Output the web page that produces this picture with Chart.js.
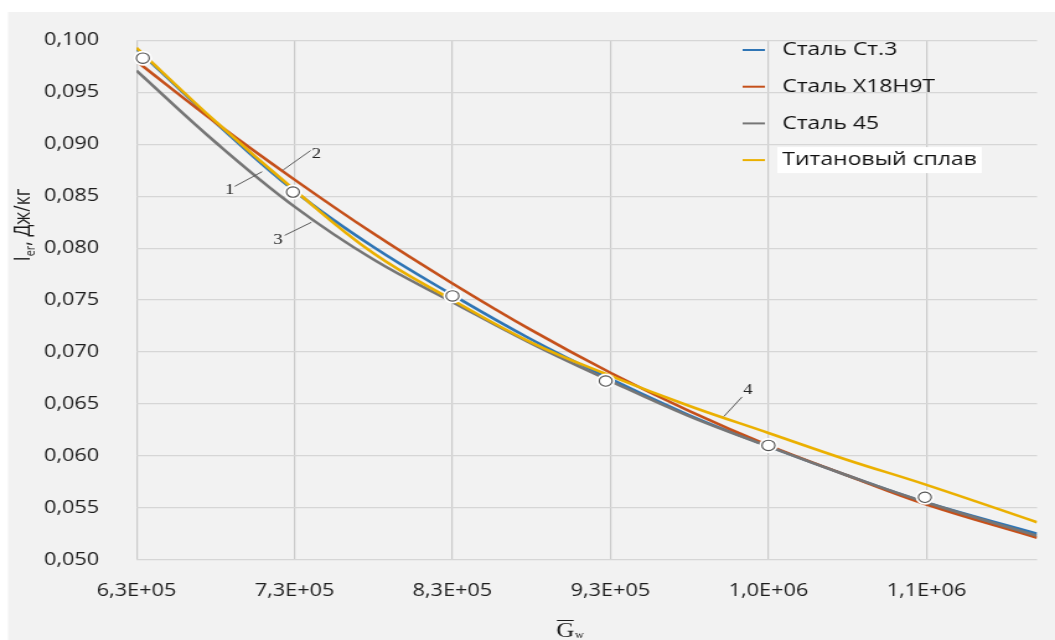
<!DOCTYPE html>
<html><head><meta charset="utf-8">
<script src="https://cdn.jsdelivr.net/npm/chart.js@4/dist/chart.umd.min.js"></script>
<style>html,body{margin:0;padding:0;background:#fff;overflow:hidden}</style>
</head><body>
<canvas id="c" width="851" height="640" style="width:1055px;height:640px;display:block"></canvas>
<script>
// ---- data ----
const xValues   = [630000, 680000, 730000, 780000, 830000, 880000, 930000, 980000, 1030000, 1080000, 1130000, 1200000];
const steelSt3  = [0.0992, 0.0921, 0.0855, 0.0801, 0.0755, 0.0712, 0.0674, 0.0639, 0.0609, 0.0581, 0.0555, 0.0525];
const steelX18  = [0.0980, 0.0921, 0.0866, 0.0814, 0.0766, 0.0721, 0.0680, 0.0643, 0.0610, 0.0581, 0.0553, 0.0521];
const steel45   = [0.0971, 0.0902, 0.0840, 0.0789, 0.0748, 0.0708, 0.0672, 0.0638, 0.0609, 0.0581, 0.0555, 0.0523];
const titanium  = [0.0993, 0.0922, 0.0856, 0.0795, 0.0750, 0.0709, 0.0677, 0.0648, 0.0622, 0.0596, 0.0572, 0.0536];
const seriesNames = ['Сталь Ст.3', 'Сталь Х18Н9Т', 'Сталь 45', 'Титановый сплав'];
const markerX = [634000, 729000, 830000, 927000, 1030000, 1129000, 1209000];
const markerY = [0.0983, 0.0854, 0.0754, 0.0672, 0.0610, 0.0560, 0.0522];
const xTickValues = [630000, 730000, 830000, 930000, 1030000, 1130000];
const xTickLabels = ['6,3E+05', '7,3E+05', '8,3E+05', '9,3E+05', '1,0E+06', '1,1E+06'];
const yTickValues = [0.050, 0.055, 0.060, 0.065, 0.070, 0.075, 0.080, 0.085, 0.090, 0.095, 0.100];
const yTickLabels = ['0,050', '0,055', '0,060', '0,065', '0,070', '0,075', '0,080', '0,085', '0,090', '0,095', '0,100'];
const annTexts = ['1', '2', '3', '4'];
const annTipX  = [709500, 722700, 740700, 1001800];
const annTipY  = [0.08736, 0.08752, 0.08249, 0.06379];
const annEndX  = [692200, 740200, 723800, 1013300];
const annEndY  = [0.08595, 0.08940, 0.08123, 0.06567];

// ---- styling ----
const S = 1055 / 851; // horizontal stretch of the reference
const colors = ['#2f75b5', '#c5501a', '#767676', '#ebb000'];
const seriesData = [steelSt3, steelX18, steel45, titanium];
const seriesOrder = [4, 3, 2, 1];
const annOffsets = [[-4, 3.5], [4.6, 3.3], [-5.4, 5], [4.6, -6.6]];

const toXY = (xs, ys) => xs.map((x, i) => ({x, y: ys[i]}));

const datasets = [
  { type: 'scatter', data: toXY(markerX, markerY), pointRadius: 5.2, pointBackgroundColor: '#fff',
    pointBorderColor: '#505050', pointBorderWidth: 1.1, order: -2, clip: false },
  { type: 'scatter', data: toXY(markerX, markerY), pointRadius: 7.5, pointBackgroundColor: '#fff',
    pointBorderWidth: 0, pointBorderColor: 'rgba(0,0,0,0)', order: -1, clip: false },
];
seriesData.forEach((arr, i) => datasets.push({
  type: 'line', label: seriesNames[i], data: toXY(xValues, arr), borderColor: colors[i],
  borderWidth: 2.6, pointRadius: 0, fill: false, tension: 0.4, order: seriesOrder[i]
}));

const bgPlugin = {
  id: 'bg',
  beforeDraw(chart) {
    const c = chart.ctx; c.save();
    c.fillStyle = '#fff'; c.fillRect(0, 0, chart.width, chart.height);
    c.fillStyle = '#f2f2f2'; c.fillRect(8 / S, 12, chart.width, chart.height);
    c.restore();
  }
};

const annPlugin = {
  id: 'ann',
  afterDatasetsDraw(chart) {
    const {ctx} = chart, x = chart.scales.x, y = chart.scales.y;
    ctx.save();
    ctx.strokeStyle = '#5a5a5a'; ctx.lineWidth = 1;
    ctx.fillStyle = '#222'; ctx.font = '15px "Liberation Serif", serif';
    ctx.textAlign = 'center'; ctx.textBaseline = 'middle';
    annTexts.forEach((t, i) => {
      const x1 = x.getPixelForValue(annTipX[i]), y1 = y.getPixelForValue(annTipY[i]);
      const x2 = x.getPixelForValue(annEndX[i]), y2 = y.getPixelForValue(annEndY[i]);
      ctx.beginPath(); ctx.moveTo(x1, y1); ctx.lineTo(x2, y2); ctx.stroke();
      ctx.fillText(t, x2 + annOffsets[i][0], y2 + annOffsets[i][1]);
    });
    ctx.restore();
  }
};

const legendPlugin = {
  id: 'customLegend',
  afterDraw(chart) {
    const ctx = chart.ctx; ctx.save();
    ctx.font = '18.5px "Open Sans"'; ctx.textBaseline = 'middle'; ctx.textAlign = 'left';
    const lx0 = 599, lx1 = 617, tx = 631, y0 = 50, dy = 36.7;
    seriesNames.forEach((name, i) => {
      const yy = y0 + i * dy;
      if (i === 3) {
        const w = ctx.measureText(name).width;
        ctx.fillStyle = '#fff'; ctx.fillRect(tx - 4, yy - 13, w + 8, 26);
      }
      ctx.strokeStyle = colors[i]; ctx.lineWidth = 2;
      ctx.beginPath(); ctx.moveTo(lx0, yy); ctx.lineTo(lx1, yy); ctx.stroke();
      ctx.fillStyle = '#111'; ctx.fillText(name, tx, yy);
    });
    ctx.restore();
  }
};

const titlePlugin = {
  id: 'titles',
  afterDraw(chart) {
    const ctx = chart.ctx;
    // y-axis title
    ctx.save();
    ctx.translate(17.7, 225); ctx.rotate(-Math.PI / 2);
    ctx.fillStyle = '#1a1a1a'; ctx.textBaseline = 'alphabetic'; ctx.textAlign = 'left';
    const big = '17.5px "Open Sans"', small = '11px "Open Sans"';
    ctx.font = big; const wI = ctx.measureText('I').width; const wR = ctx.measureText(', Дж/кг').width;
    ctx.font = small; const wS = ctx.measureText('er').width;
    let px = -(wI + wS + wR) / 2;
    ctx.font = big; ctx.fillText('I', px, 6); px += wI;
    ctx.font = small; ctx.fillText('er', px, 10); px += wS;
    ctx.font = big; ctx.fillText(', Дж/кг', px, 6);
    ctx.restore();
    // x-axis title
    ctx.save();
    ctx.fillStyle = '#1a1a1a'; ctx.strokeStyle = '#1a1a1a'; ctx.textBaseline = 'alphabetic'; ctx.textAlign = 'left';
    ctx.font = '20px "Liberation Serif", serif';
    const wG = ctx.measureText('G').width;
    const gx = 456 - wG / 2, base = 637;
    ctx.fillText('G', gx, base);
    ctx.lineWidth = 1; ctx.beginPath(); ctx.moveTo(gx + 0.5, 620.5); ctx.lineTo(gx + wG - 0.5, 620.5); ctx.stroke();
    ctx.font = '10px "Liberation Serif", serif';
    ctx.fillText('w', gx + wG + 0.5, base + 1);
    ctx.restore();
  }
};

Chart.defaults.font.family = '"Open Sans", sans-serif';

new Chart(document.getElementById('c'), {
  data: { datasets },
  options: {
    responsive: false, devicePixelRatio: 1, animation: false,
    layout: { padding: { left: 0, right: 14.5, top: 29.3, bottom: 0 } },
    plugins: { legend: { display: false }, tooltip: { enabled: false } },
    scales: {
      x: {
        type: 'linear', min: 630000, max: 1200000,
        afterBuildTicks(s) { s.ticks = xTickValues.map(v => ({value: v})); },
        afterFit(s) { s.height = 80.4; },
        ticks: { padding: 21, color: '#1e1e1e', font: { size: 17.5 }, autoSkip: false, maxRotation: 0,
          callback: (v, i) => xTickLabels[i] },
        grid: { color: '#cbcbcb', lineWidth: 1.2, drawTicks: false },
        border: { display: false }
      },
      y: {
        type: 'linear', min: 0.05, max: 0.1,
        afterBuildTicks(s) { s.ticks = yTickValues.map(v => ({value: v})); },
        afterFit(s) { s.width = 110.1; },
        ticks: { padding: 30, color: '#1e1e1e', font: { size: 17.5 }, autoSkip: false,
          callback: (v, i) => yTickLabels[i] },
        grid: { color: '#d6d6d6', lineWidth: 1.2, drawTicks: false },
        border: { display: false }
      }
    }
  },
  plugins: [bgPlugin, annPlugin, legendPlugin, titlePlugin]
});
</script>
</body></html>
